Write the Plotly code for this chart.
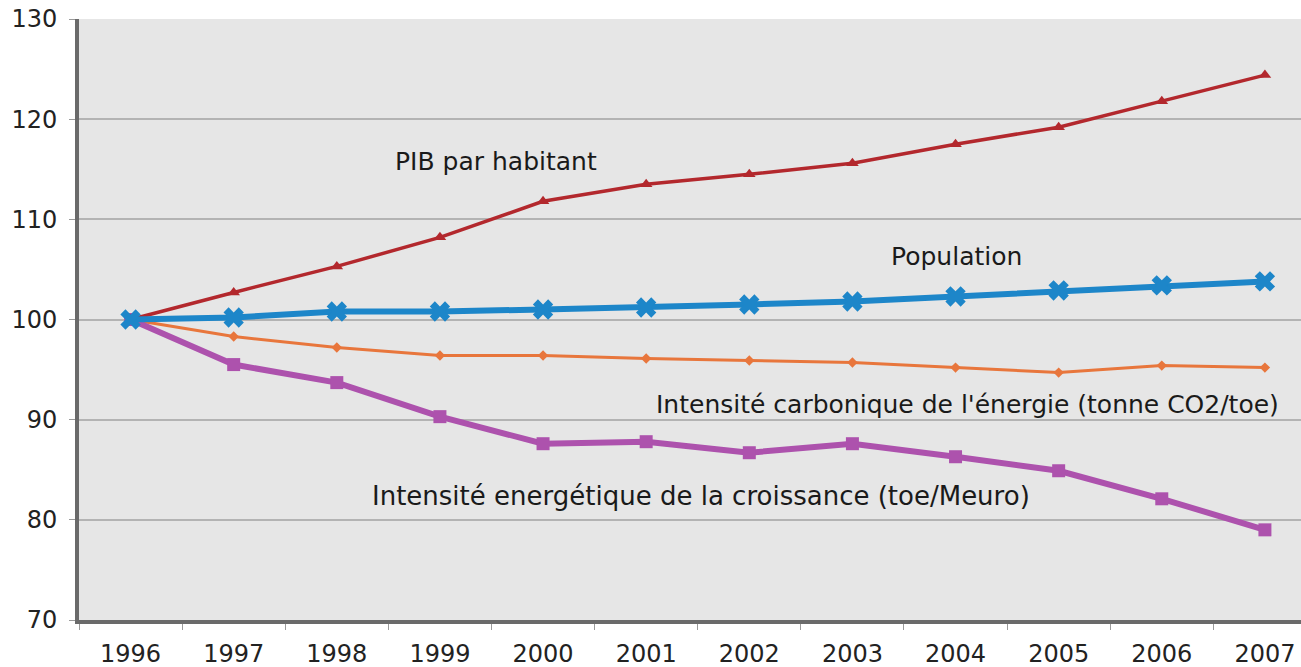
import plotly.graph_objects as go

years = [1996, 1997, 1998, 1999, 2000, 2001, 2002, 2003, 2004, 2005, 2006, 2007]
pib = [100, 102.7, 105.3, 108.2, 111.8, 113.5, 114.5, 115.6, 117.5, 119.2, 121.8, 124.4]
population = [100, 100.2, 100.8, 100.8, 101.0, 101.2, 101.5, 101.8, 102.3, 102.9, 103.4, 103.8]
carbone = [100, 98.3, 97.2, 96.4, 96.4, 96.1, 95.9, 95.7, 95.2, 94.7, 95.4, 95.2]
energie = [100, 95.5, 93.7, 90.3, 87.6, 87.8, 86.7, 87.6, 86.3, 84.9, 82.1, 79.0]
y_ticks = [70, 80, 90, 100, 110, 120, 130]

labels = [
    ("PIB par habitant", 1999.54, 115.8),
    ("Population", 2004.01, 106.3),
    ("Intensité carbonique de l'énergie (tonne CO2/toe)", 2004.12, 91.5),
    ("Intensité energétique de la croissance (toe/Meuro)", 2001.53, 82.4),
]

FONT = "DejaVu Sans"

fig = go.Figure()
fig.add_trace(go.Scatter(x=years, y=carbone, mode="lines+markers",
                         line=dict(color="#e8763c", width=3),
                         marker=dict(symbol="diamond", size=8, color="#e8763c"),
                         name="Intensité carbonique"))
fig.add_trace(go.Scatter(x=years, y=energie, mode="lines+markers",
                         line=dict(color="#ad52ad", width=6),
                         marker=dict(symbol="square", size=13, color="#ad52ad"),
                         name="Intensité energétique"))
fig.add_trace(go.Scatter(x=years, y=pib, mode="lines+markers",
                         line=dict(color="#b3282d", width=3.5),
                         marker=dict(symbol="triangle-up", size=11, color="#b3282d"),
                         name="PIB par habitant"))
fig.add_trace(go.Scatter(x=years, y=population, mode="lines+markers",
                         line=dict(color="#1d86c9", width=6),
                         marker=dict(symbol="x", size=18, color="#1d86c9"),
                         name="Population"))

for i, (text, x, y) in enumerate(labels):
    fig.add_annotation(x=x, y=y, text=text, showarrow=False,
                       font=dict(family=FONT, size=26 if i == 3 else 25, color="#1a1a1a"))

fig.update_layout(
    width=1301, height=667,
    margin=dict(l=79, r=0, t=19, b=47, autoexpand=False),
    paper_bgcolor="white",
    plot_bgcolor="#e6e6e6",
    showlegend=False,
    font=dict(family=FONT, color="#222222"),
    xaxis=dict(
        range=[1995.5, 2007.35],
        tickmode="array", tickvals=years, ticktext=[str(y) for y in years],
        ticks="", showgrid=False, zeroline=False, automargin=False,
        showline=True, linecolor="#6a6a6a", linewidth=4,
        tickfont=dict(size=24, family=FONT, color="#222222"),
        ticklabelstandoff=9,
        minor=dict(tick0=1995.5, dtick=1, ticks="outside", ticklen=6,
                   tickcolor="#9a9a9a", tickwidth=1, showgrid=False),
    ),
    yaxis=dict(
        range=[70, 130],
        tickmode="array", tickvals=y_ticks,
        ticks="outside", ticklen=6, tickcolor="#9a9a9a", tickwidth=1,
        showgrid=True, gridcolor="#b3b3b3", gridwidth=1.5,
        zeroline=False, automargin=False,
        showline=True, linecolor="#6a6a6a", linewidth=4,
        tickfont=dict(size=24, family=FONT, color="#222222"),
        ticklabelstandoff=7,
    ),
)

fig.write_html("out.html",
               config={"displayModeBar": False},
               post_script="document.body.style.margin='0px';document.body.style.overflow='hidden';")
